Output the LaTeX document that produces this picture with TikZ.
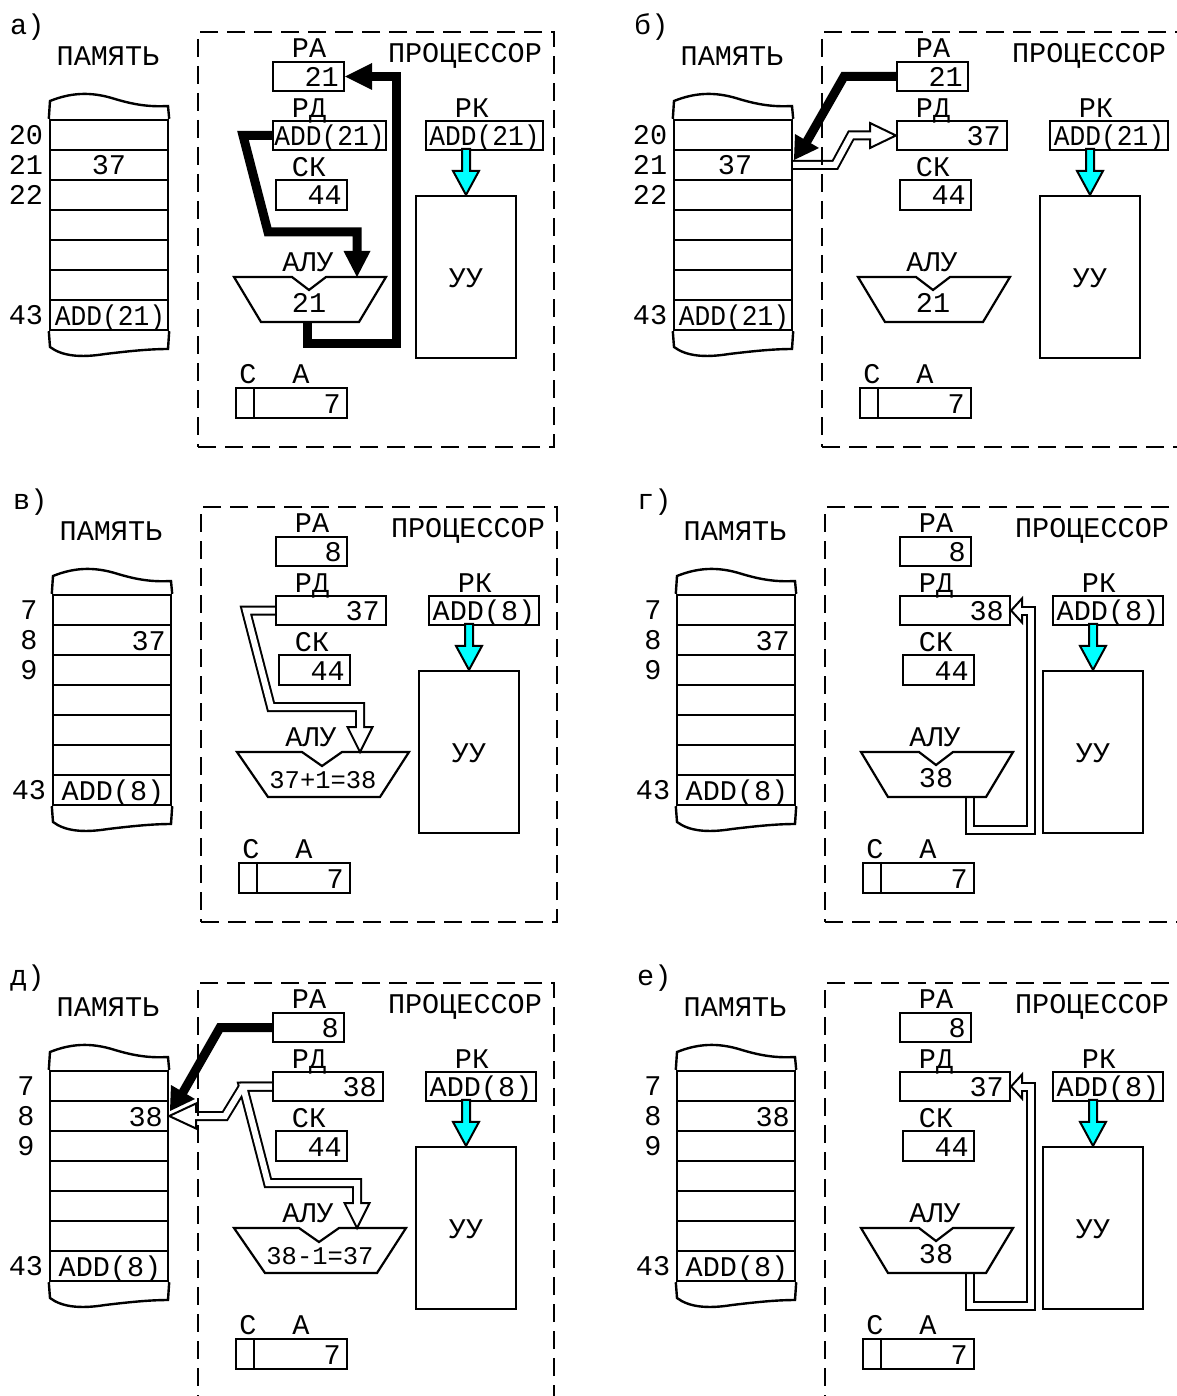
\documentclass[tikz,border=0pt]{standalone}
\usepackage{fontspec}
\newfontfamily\monofont{Liberation Mono}
\usetikzlibrary{calc}
\pgfdeclarelayer{back}
\pgfdeclarelayer{bg}
\pgfsetlayers{back,bg,main}
\definecolor{aqua}{RGB}{0,255,255}
\tikzset{
  lbl/.style={font=\monofont\fontsize{28.5}{34}\selectfont, inner sep=0pt, text height=19pt, text depth=0pt},
  lblsmall/.style={font=\monofont\fontsize{25.5}{30}\selectfont, inner sep=0pt, text height=17pt, text depth=0pt},
  regbox/.style={draw, line width=2.2pt, rectangle, inner sep=0pt},
  memrow/.style={draw, line width=2.4pt, rectangle, inner sep=0pt, minimum width=118pt, minimum height=30pt},
  memedge/.style={line width=2.4pt},
  cpubox/.style={draw, line width=2.8pt, dash pattern=on 18pt off 9pt, rectangle, inner sep=0pt, minimum width=356pt, minimum height=415pt},
  alushape/.style={draw, line width=2.2pt, line join=miter},
  thickarr/.style={draw, line width=9pt, line join=miter},
  thickhead/.style={fill=black},
  holout/.style={draw, line width=10pt, line join=miter},
  holin/.style={draw=white, line width=6pt, line join=miter},
  holhead/.style={fill=white, draw=black, line width=2pt, line join=miter},
  cyanarr/.style={fill=aqua, draw=black, line width=2pt, line join=miter},
}
\newcommand\Mem[7]{%
  \node[lbl, anchor=west] (#1let) at (10,25) {#2};
  \node[lbl] (#1pam) at (108,56) {ПАМЯТЬ};
  \node[memrow] (#1r1) at (109,135) {};
  \node[memrow] (#1r2) at (109,165) {};
  \node[memrow] (#1r3) at (109,195) {};
  \node[memrow] (#1r4) at (109,225) {};
  \node[memrow] (#1r5) at (109,255) {};
  \node[memrow] (#1r6) at (109,285) {};
  \node[memrow] (#1r7) at (109,315) {};
  \draw[memedge] (#1r1.north west) -- (50,101) .. controls (70,93) and (90,91) .. (115,99) .. controls (135,105) and (150,107) .. (168,106) -- (#1r1.north east);
  \draw[memedge] (#1r7.south west) -- (50,347) .. controls (62,356) and (80,358) .. (105,354) .. controls (130,351) and (150,349) .. (168,349) -- (#1r7.south east);
  \node[lbl] (#1n1) at (26,135) {#3};
  \node[lbl] (#1n2) at (26,165) {#4};
  \node[lbl] (#1n3) at (26,195) {#5};
  \node[lbl] (#1n4) at (26,315) {43};
  #6
  \node[lbl] (#1addt) at (110,315.5) {#7};
}
\newcommand\Proc[6]{%
  \node[cpubox] (#1cpu) at (376,239.5) {};
  \node[lbl] (#1proct) at (465,53) {ПРОЦЕССОР};
  \node[lbl] (#1ral) at (309,48) {РА};
  \node[regbox, minimum width=71pt, minimum height=29pt] (#1ra) at (308.5,76.5) {};
  \node[lbl, anchor=east] (#1rav) at (339,77) {#2};
  \node[lbl] (#1rdl) at (309,108) {РД};
  \node[regbox, minimum width={(#3-273)*1pt}, minimum height=29pt] (#1rd) at ({(273+#3)/2},135.5) {};
  #4
  \node[lbl] (#1ckl) at (309,167) {СК};
  \node[regbox, minimum width=71pt, minimum height=30pt] (#1ck) at (311.5,195) {};
  \node[lbl, anchor=east] (#1ckv) at (342,195.5) {44};
  \node[lbl] (#1rkl) at (472,108) {РК};
  \node[regbox, minimum width={(#5-426)*1pt}, minimum height=29pt] (#1rk) at ({(426+#5)/2},135.5) {};
  \node[lbl] (#1rkv) at ({(426+#5)/2},136) {#6};
  \node[regbox, minimum width=100pt, minimum height=162pt] (#1uu) at (466,277) {};
  \node[lbl] (#1uut) at (466,278) {УУ};
  \draw[cyanarr] (#1uu.north) -- ++(13,-24) -- ++(-9,0) -- ++(0,-22) -- ++(-8,0) -- ++(0,22) -- ++(-9,0) -- cycle;
  \node[lbl] (#1al) at (308,262) {АЛУ};
  \node[lbl] (#1cl) at (248,374) {С};
  \node[lbl] (#1acl) at (301,374) {А};
  \node[regbox, minimum width=111pt, minimum height=30pt] (#1acc) at (291.5,403) {};
  \draw[line width=2.2pt] (#1acc.north west) ++(19,0) -- ++(0,30);
  \node[lbl, anchor=east] (#1accv) at (341,403.5) {7};
}
\newcommand\AluN[2]{%
  \draw[alushape] (234,277) -- (292,277) -- (309,290) -- (326,277) -- (386,277) -- (359,322) -- (261,322) -- cycle;
  \coordinate (#1aluin) at (357,277);
  \node[lbl] (#1aluv) at (309,303) {#2};
}
\newcommand\AluW[2]{%
  \draw[alushape] (234,277) -- (299,277) -- (319,291) -- (339,277) -- (406,277) -- (377,322) -- (265,322) -- cycle;
  \coordinate (#1aluin) at (357,277);
  \node[lblsmall] (#1aluv) at (320,305) {#2};
}
\newcommand\BackArrow[1]{%
  \coordinate (#1aluout) at (343,322);
  \begin{pgfonlayer}{bg}
    \draw[holout] (#1aluout) -- (343,355) -- (404,355) -- (404,135.5) -- (395,135.5);
    \draw[holhead] (395,123.5) -- (395,147.5) -- (#1rd.east) -- cycle;
    \draw[holin] (#1aluout) -- (343,355) -- (404,355) -- (404,135.5) -- (393,135.5);
  \end{pgfonlayer}
}
\begin{document}
\begin{tikzpicture}[x=1pt,y=-1pt]
\useasboundingbox (0,0) rectangle (1176,1396);
\begin{pgfonlayer}{back}
  \fill[white] (0,0) rectangle (1176,1396);
\end{pgfonlayer}

% ---------- a ----------
\begin{scope}[shift={(0,0)}]
  \Mem{a}{а)}{20}{21}{22}{\node[lbl] (aval) at (109,165) {37};}{\scalebox{0.92}[1]{ADD(21)}}
  \Proc{a}{21}{386}{\node[lbl] (arv) at (329.5,136) {\scalebox{0.92}[1]{ADD(21)}};}{543}{\scalebox{0.92}[1]{ADD(21)}}
  \AluN{a}{21}
  \coordinate (aaluout) at (307,322);
  \begin{pgfonlayer}{bg}
    \draw[thickarr] (ard.west) -- (243,135.5) -- (268,232) -- (357,232) -- (357,253);
    \fill[thickhead] (343.5,251) -- (370.5,251) -- (aaluin) -- cycle;
    \draw[thickarr] (aaluout) -- (307,343) -- (396,343) -- (396,76.5) -- (371,76.5);
    \fill[thickhead] (372,63) -- (372,90) -- (ara.east) -- cycle;
  \end{pgfonlayer}
\end{scope}

% ---------- b ----------
\begin{scope}[shift={(624,0)}]
  \Mem{b}{б)}{20}{21}{22}{\node[lbl] (bval) at (111,165) {37};}{\scalebox{0.92}[1]{ADD(21)}}
  \Proc{b}{21}{383}{\node[lbl, anchor=east] (brv) at (377,136) {37};}{544}{\scalebox{0.92}[1]{ADD(21)}}
  \AluN{b}{21}
  \begin{pgfonlayer}{bg}
    \draw[holout] (br2.east) -- (211,165) -- (227,135.5) -- (247,135.5);
    \draw[holhead] (246,123) -- (brd.west) -- (246,148) -- cycle;
    \draw[holin] (br2.east) -- (211,165) -- (227,135.5) -- (249,135.5);
    \draw[thickarr] (bra.west) -- (220,76.5) -- (182,143);
    \fill[thickhead] (171,134) -- (195,148) -- (170,160) -- cycle;
  \end{pgfonlayer}
\end{scope}

% ---------- v ----------
\begin{scope}[shift={(3,475)}]
  \Mem{c}{в)}{7}{8}{9}{\node[lbl, anchor=east] (cval) at (163,165.5) {37};}{ADD(8)}
  \Proc{c}{8}{383}{\node[lbl, anchor=east] (crv) at (377,136) {37};}{536}{ADD(8)}
  \AluW{c}{37+1=38}
  \begin{pgfonlayer}{bg}
    \draw[holout] (crd.west) -- (243,135.5) -- (268,232) -- (357,232) -- (357,252);
    \draw[holhead] (344.5,252) -- (369.5,252) -- (caluin) -- cycle;
    \draw[holin] (crd.west) -- (243,135.5) -- (268,232) -- (357,232) -- (357,254);
  \end{pgfonlayer}
\end{scope}

% ---------- g ----------
\begin{scope}[shift={(627,475)}]
  \Mem{d}{г)}{7}{8}{9}{\node[lbl, anchor=east] (dval) at (163,165.5) {37};}{ADD(8)}
  \Proc{d}{8}{383}{\node[lbl, anchor=east] (drv) at (377,136) {38};}{536}{ADD(8)}
  \AluN{d}{38}
  \BackArrow{d}
\end{scope}

% ---------- d ----------
\begin{scope}[shift={(0,951)}]
  \Mem{e}{д)}{7}{8}{9}{\node[lbl, anchor=east] (eval) at (163,165.5) {38};}{ADD(8)}
  \Proc{e}{8}{383}{\node[lbl, anchor=east] (erv) at (377,136) {38};}{536}{ADD(8)}
  \AluW{e}{38-1=37}
  \begin{pgfonlayer}{bg}
    \draw[holout] (erd.west) -- (243,135.5) -- (225,165) -- (196,165);
    \draw[holout] (erd.west) -- (243,135.5) -- (268,232) -- (357,232) -- (357,252);
    \draw[holhead] (196,152.5) -- (196,177.5) -- (er2.east) -- cycle;
    \draw[holhead] (344.5,252) -- (369.5,252) -- (ealuin) -- cycle;
    \draw[holin] (erd.west) -- (243,135.5) -- (225,165) -- (194,165);
    \draw[holin] (erd.west) -- (243,135.5) -- (268,232) -- (357,232) -- (357,254);
    \draw[thickarr] (era.west) -- (220,76.5) -- (182,143);
    \fill[thickhead] (171,134) -- (195,148) -- (170,160) -- cycle;
  \end{pgfonlayer}
\end{scope}

% ---------- e ----------
\begin{scope}[shift={(627,951)}]
  \Mem{f}{е)}{7}{8}{9}{\node[lbl, anchor=east] (fval) at (163,165.5) {38};}{ADD(8)}
  \Proc{f}{8}{383}{\node[lbl, anchor=east] (frv) at (377,136) {37};}{536}{ADD(8)}
  \AluN{f}{38}
  \BackArrow{f}
\end{scope}
\end{tikzpicture}
\end{document}
